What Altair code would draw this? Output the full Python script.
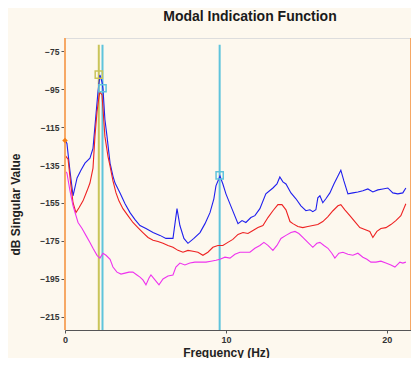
import altair as alt
import pandas as pd

# ---- data ----
blue_f = [0.0, 0.12, 0.31, 0.50, 0.75, 0.99, 1.24, 1.55, 1.74, 1.93, 2.05, 2.17, 2.30, 2.36, 2.48, 2.61, 2.80, 2.98,
          3.11, 3.42, 3.73, 4.04, 4.35, 4.66, 5.03, 5.47, 5.90, 6.27, 6.71, 6.96, 7.14, 7.39, 7.64, 8.01, 8.39, 8.70,
          9.01, 9.25, 9.38, 9.63, 9.81, 10.0, 10.37, 10.75, 11.0, 11.24, 11.55, 11.80, 12.11, 12.48, 12.92, 13.17,
          13.35, 13.54, 13.73, 14.04, 14.35, 14.66, 14.97, 15.22, 15.40, 15.59, 15.71, 15.84, 16.02, 16.21, 16.46,
          16.71, 16.96, 17.14, 17.33, 17.58, 17.89, 18.20, 18.51, 18.82, 19.13, 19.44, 19.75, 20.06, 20.37, 20.68,
          20.99, 21.18]
blue_db = [-122.0, -123.6, -138.2, -151.2, -141.8, -137.7, -134.0, -131.4, -126.2, -107.9, -96.4, -87.5, -91.2,
           -94.8, -111.0, -119.9, -134.0, -140.8, -144.5, -149.7, -155.4, -160.1, -163.8, -166.9, -168.5, -170.6,
           -172.1, -173.7, -173.7, -158.0, -166.9, -173.7, -176.3, -173.7, -170.6, -165.9, -160.1, -152.8, -146.0,
           -140.8, -145.0, -150.2, -158.0, -165.9, -164.3, -165.3, -162.7, -161.7, -158.0, -150.2, -147.1, -145.0,
           -141.3, -143.9, -145.0, -149.7, -152.8, -156.5, -159.1, -158.6, -159.6, -158.6, -152.3, -151.2, -154.9,
           -152.8, -149.7, -145.0, -140.8, -137.7, -143.4, -150.2, -149.7, -149.2, -148.6, -147.6, -149.2, -148.1,
           -147.6, -147.1, -149.7, -150.2, -149.7, -147.1]

red_f = [0.0, 0.19, 0.37, 0.50, 0.68, 0.87, 1.12, 1.37, 1.55, 1.74, 1.86, 1.99, 2.11, 2.17, 2.30, 2.36, 2.48, 2.67,
         2.80, 2.98, 3.17, 3.35, 3.60, 3.91, 4.22, 4.53, 4.84, 5.16, 5.47, 5.78, 6.09, 6.40, 6.71, 7.02, 7.33, 7.64,
         7.95, 8.26, 8.57, 8.88, 9.19, 9.50, 9.81, 10.12, 10.43, 10.75, 11.06, 11.37, 11.68, 11.99, 12.30, 12.61,
         12.92, 13.23, 13.48, 13.73, 13.98, 14.16, 14.47, 14.78, 15.09, 15.40, 15.71, 16.02, 16.34, 16.65, 16.96,
         17.14, 17.39, 17.70, 18.01, 18.32, 18.63, 18.94, 19.13, 19.38, 19.63, 19.94, 20.25, 20.56, 20.87, 21.18]
red_db = [-129.8, -131.9, -146.0, -154.9, -160.1, -157.5, -153.9, -148.6, -144.5, -136.6, -119.9, -106.9, -99.0,
          -96.4, -98.0, -105.3, -119.9, -130.4, -135.6, -143.4, -149.7, -153.9, -158.0, -161.7, -165.3, -168.0,
          -170.6, -173.2, -174.7, -175.3, -176.3, -177.4, -178.4, -180.0, -181.0, -180.0, -180.5, -181.0, -182.6,
          -181.0, -178.4, -177.4, -177.4, -175.8, -174.2, -171.6, -170.6, -171.1, -169.5, -168.0, -166.9, -162.7,
          -159.1, -155.9, -155.9, -158.6, -164.8, -165.9, -167.4, -168.0, -167.4, -166.9, -166.4, -164.8, -162.2,
          -159.1, -156.5, -155.9, -158.6, -161.7, -164.8, -168.0, -169.0, -170.0, -173.2, -170.0, -168.5, -168.0,
          -166.4, -164.3, -161.7, -155.4]

mag_f = [0.0, 0.12, 0.31, 0.50, 0.81, 1.06, 1.30, 1.55, 1.74, 1.99, 2.17, 2.36, 2.55, 2.80, 2.98, 3.23, 3.48, 3.73,
         3.98, 4.22, 4.47, 4.66, 4.84, 5.03, 5.22, 5.34, 5.59, 5.84, 6.09, 6.40, 6.71, 6.89, 7.14, 7.45, 7.76, 8.07,
         8.39, 8.76, 9.07, 9.38, 9.63, 9.94, 10.25, 10.56, 10.87, 11.18, 11.49, 11.80, 12.11, 12.36, 12.61, 12.92,
         13.17, 13.42, 13.73, 14.04, 14.29, 14.53, 14.78, 15.09, 15.40, 15.65, 15.84, 16.09, 16.34, 16.58, 16.77,
         17.02, 17.27, 17.58, 17.89, 18.20, 18.51, 18.76, 19.01, 19.32, 19.63, 19.94, 20.25, 20.50, 20.81, 20.99,
         21.18]
mag_db = [-138.2, -139.2, -148.6, -156.5, -165.3, -168.5, -172.1, -175.8, -178.9, -182.6, -184.1, -181.5, -182.6,
          -184.7, -188.8, -191.5, -192.5, -192.0, -191.5, -191.5, -193.0, -194.1, -195.6, -198.2, -194.6, -193.0,
          -195.6, -198.2, -195.1, -193.5, -193.0, -188.8, -186.7, -187.7, -186.7, -186.2, -186.2, -186.2, -185.7,
          -185.2, -184.7, -183.6, -184.1, -182.1, -181.0, -181.0, -181.0, -178.9, -177.4, -175.8, -177.4, -180.0,
          -177.4, -173.7, -172.1, -170.6, -170.0, -171.1, -173.2, -175.8, -178.4, -176.3, -175.8, -177.4, -178.9,
          -181.5, -184.1, -181.5, -181.0, -182.1, -182.6, -181.5, -183.6, -184.7, -186.2, -186.2, -185.7, -186.7,
          -187.7, -188.8, -186.2, -186.7, -186.2]

series_names = ["SV1", "SV2", "SV3"]
series_colors = ["#1f1fee", "#ee2222", "#ee33ee"]

cursor_f = [2.10, 2.33, 9.61]
cursor_colors = ["#c9c45a", "#5fc4dc", "#5fc4dc"]
marker_db = [-87.3, -94.5, -140.5]

edge_f = [0.0, 21.5]
start_point_f = [0.0]
start_point_db = [-122.0]

x_ticks = [0, 10, 20]
y_ticks = [-75, -95, -115, -135, -155, -175, -195, -215]
X_DOM = [0, 21.5]
Y_DOM = [-222, -68]

# ---- tables ----
rows = []
for name, fs, dbs in zip(series_names, [blue_f, red_f, mag_f], [blue_db, red_db, mag_db]):
    for i, (f, d) in enumerate(zip(fs, dbs)):
        rows.append({"series": name, "f": f, "db": d, "i": i})
lines_df = pd.DataFrame(rows)

cur_df = pd.DataFrame({"f": cursor_f, "col": cursor_colors, "db": marker_db,
                       "top": [-71.5] * 3, "bot": [Y_DOM[0]] * 3})
edge_df = pd.DataFrame({"f": edge_f, "top": [Y_DOM[1]] * 2, "bot": [Y_DOM[0]] * 2})
pt_df = pd.DataFrame({"f": start_point_f, "db": start_point_db})

xs = alt.Scale(domain=X_DOM, nice=False, zero=False)
ys = alt.Scale(domain=Y_DOM, nice=False, zero=False)

x_axis = alt.Axis(values=x_ticks, title="Frequency (Hz)", grid=False, labelFontSize=9, labelFontWeight="bold",
                  labelColor="#333333", tickColor="#555555", tickSize=3, domainColor="#555555",
                  labelPadding=2, titleFontSize=12, titleFontWeight="bold", titleColor="#222222",
                  titleX=161, titleY=22, titleBaseline="middle", labelFlush=False)
y_axis = alt.Axis(values=y_ticks, title="dB Singular Value", grid=False, labelFontSize=8.5,
                  labelFontWeight="bold", labelColor="#333333", tickColor="#555555", tickSize=4,
                  labelPadding=2, domain=False, titleFontSize=12, titleFontWeight="bold",
                  titleColor="#222222", titleX=-50, titleY=166, titleBaseline="middle", titleAngle=-90)

edges = alt.Chart(edge_df).mark_rule(color="#f6a865", strokeWidth=2).encode(
    x=alt.X("f:Q", scale=xs, axis=x_axis), y=alt.Y("top:Q", scale=ys, axis=y_axis), y2="bot:Q")

lines = alt.Chart(lines_df).mark_line(strokeWidth=1.1).encode(
    x=alt.X("f:Q", scale=xs),
    y=alt.Y("db:Q", scale=ys),
    color=alt.Color("series:N", scale=alt.Scale(domain=series_names, range=series_colors), legend=None),
    order="i:Q")

cursors = alt.Chart(cur_df).mark_rule(strokeWidth=2).encode(
    x=alt.X("f:Q", scale=xs), y=alt.Y("top:Q", scale=ys), y2="bot:Q",
    color=alt.Color("col:N", scale=None))

markers = alt.Chart(cur_df).mark_point(shape="square", filled=False, size=52, strokeWidth=1.5, opacity=1).encode(
    x=alt.X("f:Q", scale=xs), y=alt.Y("db:Q", scale=ys), color=alt.Color("col:N", scale=None))

start_pt = alt.Chart(pt_df).mark_point(shape="diamond", filled=True, size=30, color="#f57f17", opacity=1).encode(
    x=alt.X("f:Q", scale=xs), y=alt.Y("db:Q", scale=ys))

chart = alt.layer(cursors, lines, edges, markers, start_pt).properties(
    width=346, height=292,
    title=alt.TitleParams("Modal Indication Function", fontSize=14, fontWeight="bold", color="#1a1a1a",
                          anchor="middle", dx=12, offset=13, font="Liberation Sans"),
    autosize=alt.AutoSizeParams(type="none"),
    padding={"left": 57, "top": 30, "right": 0, "bottom": 28},
    background="#fdf8ee",
).configure_view(fill="white", stroke=None).configure(font="Liberation Sans")

chart.save("out.html", embed_options={"renderer": "svg", "actions": False})
